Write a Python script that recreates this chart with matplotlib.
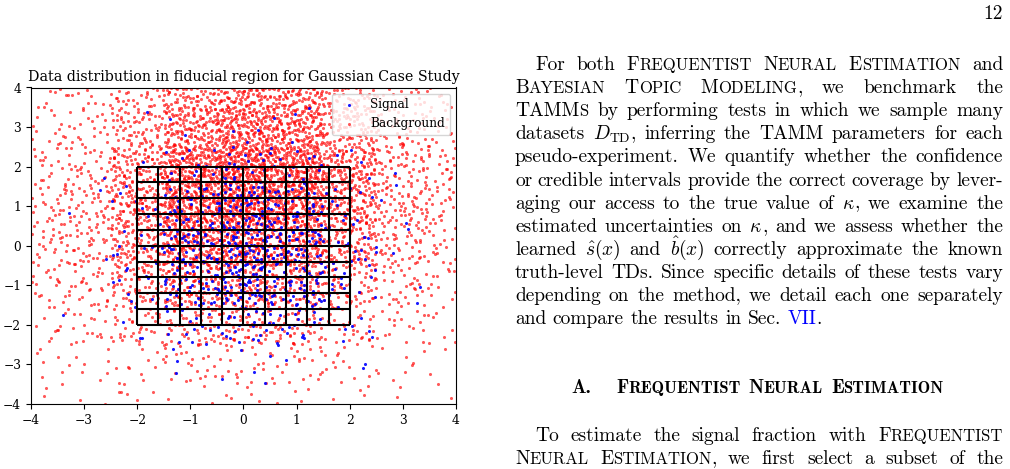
import re
import numpy as np
import matplotlib
matplotlib.use("Agg")
import matplotlib.pyplot as plt
from matplotlib.transforms import IdentityTransform

W, H = 1010, 469

# points per unit cell
# rows go from y=4 down to y=-4, columns from x=-4 to x=4
bkg_counts = [
    [15, 28, 75, 135, 160, 115, 48, 24],
    [22, 42, 135, 240, 250, 180, 75, 32],
    [32, 60, 185, 280, 280, 210, 85, 38],
    [36, 65, 170, 250, 240, 175, 78, 36],
    [30, 48, 120, 160, 150, 115, 55, 26],
    [20, 32, 70, 95, 90, 65, 32, 15],
    [12, 18, 27, 34, 38, 27, 18, 8],
    [6, 7, 8, 9, 9, 8, 5, 4],
]
bkg_x0, bkg_ytop = -4, 4

# signal: rows from y=3 down to y=-3, columns from x=-3 to x=3
sig_counts = [
    [0, 2, 6, 8, 3, 1],
    [1, 9, 30, 34, 12, 2],
    [3, 18, 70, 78, 26, 4],
    [3, 18, 75, 80, 30, 5],
    [2, 11, 40, 40, 17, 3],
    [0, 2, 6, 9, 4, 1],
]
sig_x0, sig_ytop = -3, 3

grid_edges = [-2.0, -1.6, -1.2, -0.8, -0.4, 0.0, 0.4, 0.8, 1.2, 1.6, 2.0]
ticks = [-4, -3, -2, -1, 0, 1, 2, 3, 4]
lim = (-4, 4)

title = "Data distribution in fiducial region for Gaussian Case Study"


def halton(i, b):
    f, r = 1.0, 0.0
    while i > 0:
        f /= b
        r += f * (i % b)
        i //= b
    return r


def fill_cells(counts, x0, ytop, start):
    # each cell's points go over a 2x2 square centred on it, so neighbouring
    # cells blend; points pushed past the frame are folded back in
    xs, ys = [], []
    k = start
    for r, row in enumerate(counts):
        for c, n in enumerate(row):
            for j in range(n):
                k += 1
                xs.append(x0 + c - 0.5 + 2 * halton(k * 409, 2))
                ys.append(ytop - r - 1.5 + 2 * halton(k * 409, 3))
    xs, ys = np.array(xs), np.array(ys)
    lo, hi = lim
    for a in (xs, ys):
        a[a < lo] = 2 * lo - a[a < lo]
        a[a > hi] = 2 * hi - a[a > hi]
    return xs, ys


plt.rcParams['font.family'] = 'DejaVu Serif'
plt.rcParams['mathtext.fontset'] = 'cm'

fig = plt.figure(figsize=(W / 100, H / 100), dpi=100)
ax = fig.add_axes([31 / W, 1 - 404 / H, 425 / W, 316.5 / H])

bx, by = fill_cells(bkg_counts, bkg_x0, bkg_ytop, 7)
sx, sy = fill_cells(sig_counts, sig_x0, sig_ytop, 9001)

hb = ax.scatter(bx, by, s=5, c='red', alpha=0.65, linewidths=0, label='Background')
hs = ax.scatter(sx, sy, s=5, c='blue', alpha=0.9, linewidths=0, label='Signal')
ax.vlines(grid_edges, -2, 2, colors='black', lw=1.5, zorder=3)
ax.hlines(grid_edges, -2, 2, colors='black', lw=1.5, zorder=3)

ax.set_xlim(*lim)
ax.set_ylim(*lim)
ax.set_xticks(ticks)
ax.set_yticks(ticks)
ax.tick_params(labelsize=8.8, length=3.5)
ax.set_title(title, fontsize=10.3, pad=5)
ax.legend(handles=[hs, hb], loc='upper right', fontsize=8.7)

# ---- page text on the right ----
renderer = fig.canvas.get_renderer()
TEXT_SIZE = 14.0
SC = 0.86
LEFT, RIGHT, INDENT = 515, 1003, 20


def pieces(word, size, family):
    out = []
    for p in re.findall(r'\$[^$]*\$|\[[^\]]*\]|<[^>]*>|[^$\[<]+', word):
        if p.startswith('$'):
            out.append((p, size, 'black'))
        elif p.startswith('<'):
            out.append((p[1:-1], size, 'blue'))
        elif p.startswith('['):
            for grp in re.findall(r'[a-z]+|[^a-z]+', p[1:-1]):
                if grp.islower():
                    out.append((grp.upper(), size * SC, 'black'))
                else:
                    out.append((grp, size, 'black'))
        else:
            out.append((p, size, 'black'))
    objs = []
    total = 0
    for s, sz, col in out:
        t = fig.text(0, 0, s, fontsize=sz, family=family, color=col,
                     transform=IdentityTransform(), va='baseline')
        w = t.get_window_extent(renderer).width
        objs.append((t, total))
        total += w
    return objs, total


def place(word_objs, x, y):
    objs, _ = word_objs
    for t, dx in objs:
        t.set_position((x + dx, H - y))


def put_line(line, y, x0, justify, size=TEXT_SIZE, family='cmr10'):
    words = [pieces(w, size, family) for w in line.split()]
    widths = [w[1] for w in words]
    if justify and len(words) > 1:
        gap = (RIGHT - x0 - sum(widths)) / (len(words) - 1)
    else:
        gap = size * 100 / 72 * 0.333
    x = x0
    for w in words:
        place(w, x, y)
        x += w[1] + gap


para1 = [
    "For both [Frequentist] [Neural] [Estimation] and",
    "[Bayesian] [Topic] [Modeling], we benchmark the",
    "TAMM[s] by performing tests in which we sample many",
    "datasets $D_\\mathrm{TD}$, inferring the TAMM parameters for each",
    "pseudo-experiment. We quantify whether the confidence",
    "or credible intervals provide the correct coverage by lever-",
    "aging our access to the true value of $\\kappa$, we examine the",
    "estimated uncertainties on $\\kappa$, and we assess whether the",
    "learned $\\hat{s}(x)$ and $\\hat{b}(x)$ correctly approximate the known",
    "truth-level TDs. Since specific details of these tests vary",
    "depending on the method, we detail each one separately",
    "and compare the results in Sec. <VII>.",
]
para2 = [
    "To estimate the signal fraction with [Frequentist]",
    "[Neural] [Estimation], we first select a subset of the",
]

for i, line in enumerate(para1):
    x0 = LEFT + INDENT if i == 0 else LEFT
    put_line(line, 70 + 23.1 * i, x0, i < len(para1) - 1)

for i, line in enumerate(para2):
    x0 = LEFT + INDENT if i == 0 else LEFT
    put_line(line, 441 + 23.1 * i, x0, True)

# section heading, bold small caps, centred
num = pieces("A.", TEXT_SIZE, 'cmb10')
head = [pieces(w, TEXT_SIZE, 'cmb10') for w in "[Frequentist] [Neural] [Estimation]".split()]
sp = TEXT_SIZE * 100 / 72 * 0.4
quad = TEXT_SIZE * 100 / 72 * 1.3
total = num[1] + quad + sum(h[1] for h in head) + sp * (len(head) - 1)
x = 757.5 - total / 2
place(num, x, 393)
x += num[1] + quad
for h in head:
    place(h, x, 393)
    x += h[1] + sp

# page number
pn = fig.text(RIGHT, H - 19, "12", fontsize=TEXT_SIZE, family='cmr10',
              transform=IdentityTransform(), ha='right', va='baseline')

fig.savefig("out.png", dpi=100)
